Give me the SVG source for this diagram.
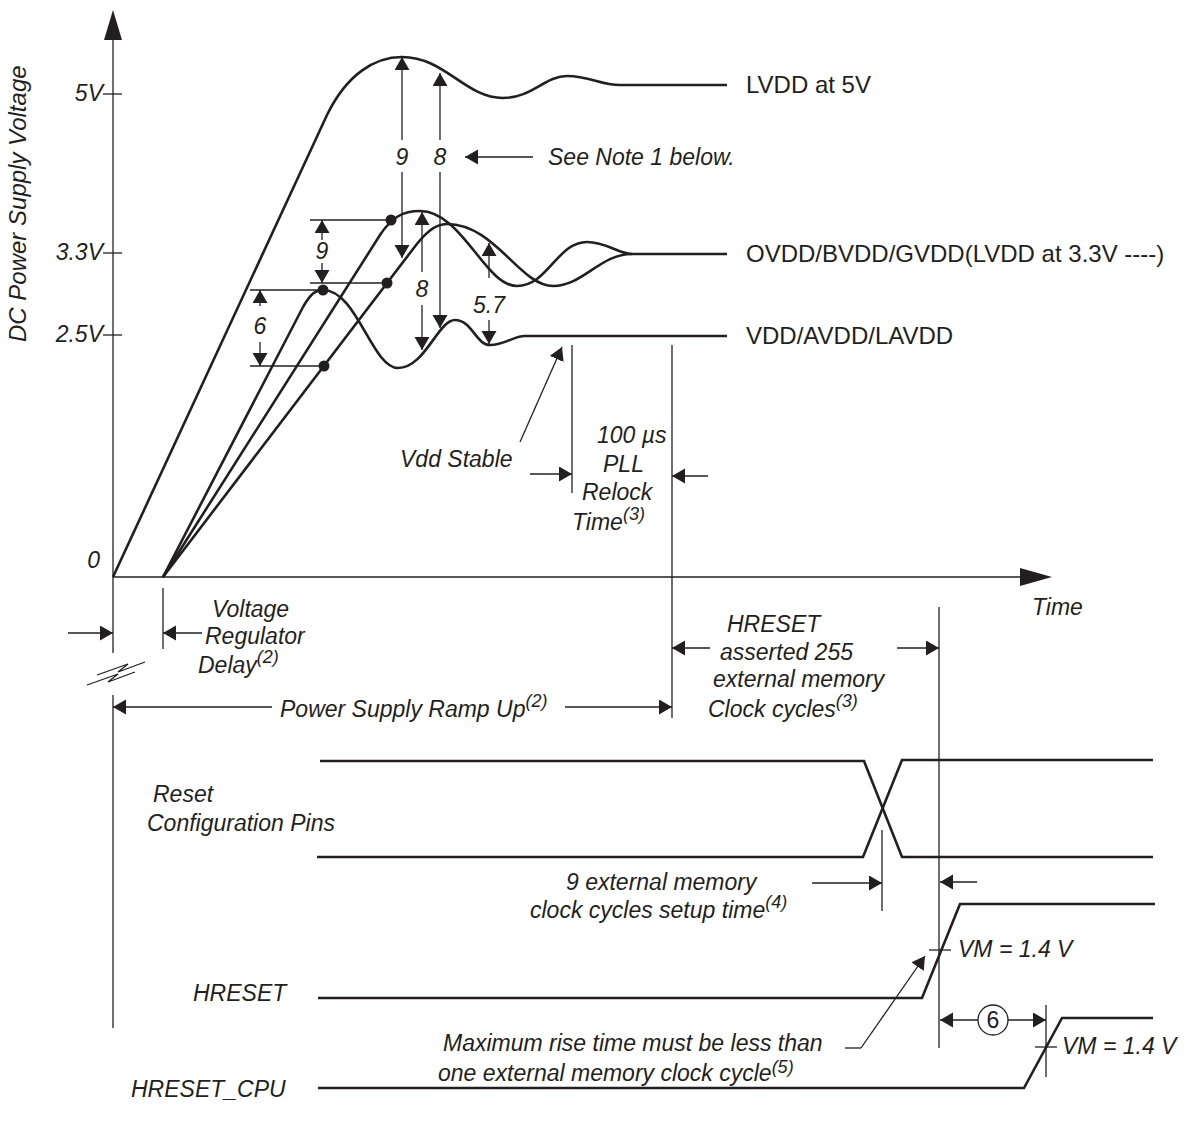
<svg xmlns="http://www.w3.org/2000/svg" width="1195" height="1123" viewBox="0 0 1195 1123">
<defs>
<style>
.ln{stroke:#231f20;stroke-width:1.3;fill:none}
.th{stroke:#231f20;stroke-width:2.6;fill:none}
.t{font-family:"Liberation Sans",Arial,Helvetica,sans-serif;font-size:23px;fill:#231f20}
.big{font-size:24px}
.i{font-style:italic}
.sup{font-size:18px}
.dot{fill:#231f20}
.ar{stroke:#231f20;stroke-width:1.3;fill:none;marker-end:url(#ah)}
</style>
<marker id="ah" markerUnits="userSpaceOnUse" markerWidth="14" markerHeight="16" refX="13" refY="7.5" orient="auto">
<path d="M0,0 L13,7.5 L0,15 z" fill="#231f20"/>
</marker>
</defs>
<rect width="1195" height="1123" fill="#fff"/>

<g id="axes">
<line class="ln" x1="113" y1="38" x2="113" y2="653"/>
<polygon points="113,10 104,40 122,40" fill="#231f20"/>
<line class="ln" x1="113" y1="695" x2="113" y2="1028"/>
<line class="ln" x1="103" y1="94" x2="122" y2="94"/>
<line class="ln" x1="103" y1="253" x2="122" y2="253"/>
<line class="ln" x1="103" y1="335" x2="122" y2="335"/>
<line class="ln" x1="113" y1="577" x2="1022" y2="577"/>
<polygon points="1052,577 1020,568 1020,586" fill="#231f20"/>
<text class="t big i" transform="translate(26,342) rotate(-90)">DC Power Supply Voltage</text>
<text class="t i" x="103" y="101" text-anchor="end">5V</text>
<text class="t i" x="103" y="260" text-anchor="end">3.3V</text>
<text class="t i" x="103" y="342" text-anchor="end">2.5V</text>
<text class="t i" x="100" y="568" text-anchor="end">0</text>
<text class="t i" x="1032" y="615">Time</text>
<path class="ln" d="M87,685 L118,674 L108,682 L135,672 M97,675 L128,664 L118,672 L145,662"/>
</g>

<g id="curves">
<path class="th" d="M113,577 L327,115 C347,74 375,57 402,57 C445,57 465,98 503,98 C532,98 545,76 567,76 C590,76 600,85 620,85 L727,85"/>
<path class="th" d="M163,577 L303,307 C311,293 316,290 323,290 C357,290 372,368 398,368 C425,368 438,320 455,320 C472,320 476,345 490,345 C505,345 513,336 525,336 L727,336"/>
<path class="th" d="M163,577 L380,235 C392,217 403,211 420,211 C462,211 485,286 517,286 C548,286 557,242 587,242 C607,242 618,254 632,254 L727,254"/>
<path class="th" d="M163,577 L413,249 C425,233 435,224 447,224 C495,224 520,286 553,286 C583,286 600,254 632,254"/>
<circle class="dot" cx="323" cy="290" r="5.5"/>
<circle class="dot" cx="391" cy="220" r="5.5"/>
<circle class="dot" cx="387" cy="283" r="5.5"/>
<circle class="dot" cx="324" cy="366" r="5.5"/>
<text class="t big" x="746" y="93">LVDD at 5V</text>
<text class="t big" x="746" y="262">OVDD/BVDD/GVDD(LVDD at 3.3V ----)</text>
<text class="t big" x="746" y="344">VDD/AVDD/LAVDD</text>
</g>

<g id="dimensions">
<line class="ln" x1="310" y1="220" x2="391" y2="220"/>
<line class="ln" x1="310" y1="283" x2="387" y2="283"/>
<line class="ar" x1="322" y1="240" x2="322" y2="220"/>
<line class="ar" x1="322" y1="263" x2="322" y2="283"/>
<text class="t i" x="322" y="259" text-anchor="middle">9</text>

<line class="ln" x1="250" y1="290" x2="323" y2="290"/>
<line class="ln" x1="250" y1="366" x2="324" y2="366"/>
<line class="ar" x1="260" y1="306" x2="260" y2="290"/>
<line class="ar" x1="260" y1="342" x2="260" y2="366"/>
<text class="t i" x="260" y="334" text-anchor="middle">6</text>

<line class="ar" x1="402" y1="140" x2="402" y2="57"/>
<line class="ar" x1="402" y1="172" x2="402" y2="258"/>
<text class="t i" x="402" y="165" text-anchor="middle">9</text>
<line class="ar" x1="440" y1="140" x2="440" y2="73"/>
<line class="ar" x1="440" y1="172" x2="440" y2="328"/>
<text class="t i" x="440" y="165" text-anchor="middle">8</text>
<line class="ar" x1="533" y1="157" x2="465" y2="157"/>
<text class="t i" x="548" y="165">See Note 1 below.</text>

<line class="ar" x1="422" y1="272" x2="422" y2="212"/>
<line class="ar" x1="422" y1="305" x2="422" y2="350"/>
<text class="t i" x="422" y="297" text-anchor="middle">8</text>
<line class="ar" x1="489" y1="278" x2="489" y2="243"/>
<line class="ar" x1="489" y1="320" x2="489" y2="344"/>
<text class="t i" x="489" y="313" text-anchor="middle">5.7</text>
</g>

<g id="vdd-stable">
<line class="ar" x1="520" y1="442" x2="562" y2="347"/>
<text class="t i" x="400" y="467">Vdd Stable</text>
<line class="ln" x1="572" y1="345" x2="572" y2="493"/>
<line class="ln" x1="672" y1="345" x2="672" y2="718"/>
<line class="ar" x1="530" y1="474" x2="572" y2="474"/>
<line class="ar" x1="708" y1="476" x2="672" y2="476"/>
<text class="t i" x="597" y="443">100 µs</text>
<text class="t i" x="603" y="472">PLL</text>
<text class="t i" x="582" y="500">Relock</text>
<text class="t i" x="572" y="530">Time<tspan class="sup" dy="-10">(3)</tspan></text>
</g>

<g id="regulator-delay">
<line class="ln" x1="163" y1="588" x2="163" y2="649"/>
<line class="ar" x1="68" y1="633" x2="113" y2="633"/>
<line class="ar" x1="202" y1="633" x2="163" y2="633"/>
<text class="t i" x="212" y="617">Voltage</text>
<text class="t i" x="205" y="644">Regulator</text>
<text class="t i" x="198" y="673">Delay<tspan class="sup" dy="-10">(2)</tspan></text>
</g>

<g id="ramp-up">
<line class="ar" x1="272" y1="707" x2="113" y2="707"/>
<line class="ar" x1="565" y1="707" x2="672" y2="707"/>
<text class="t i" x="280" y="717">Power Supply Ramp Up<tspan class="sup" dy="-10">(2)</tspan></text>
</g>

<g id="hreset-asserted">
<line class="ln" x1="939" y1="607" x2="939" y2="1048"/>
<line class="ar" x1="710" y1="648" x2="672" y2="648"/>
<line class="ar" x1="897" y1="648" x2="939" y2="648"/>
<text class="t i" x="727" y="632">HRESET</text>
<text class="t i" x="720" y="660">asserted 255</text>
<text class="t i" x="713" y="687">external memory</text>
<text class="t i" x="708" y="717">Clock cycles<tspan class="sup" dy="-10">(3)</tspan></text>
</g>

<g id="reset-config">
<path class="th" d="M320,761 L864,761 L902,857 L1153,857"/>
<path class="th" d="M317,857 L863,857 L902,760 L1153,760"/>
<text class="t i" x="153" y="802">Reset</text>
<text class="t i" x="147" y="831">Configuration Pins</text>
<line class="ln" x1="882" y1="830" x2="882" y2="911"/>
<line class="ar" x1="812" y1="883" x2="882" y2="883"/>
<line class="ar" x1="977" y1="882" x2="940" y2="882"/>
<text class="t i" x="566" y="890">9 external memory</text>
<text class="t i" x="530" y="918">clock cycles setup time<tspan class="sup" dy="-10">(4)</tspan></text>
</g>

<g id="hreset">
<path class="th" d="M318,998 L922,998 L960,904 L1155,904"/>
<line class="ln" x1="929" y1="950" x2="951" y2="950"/>
<text class="t i" x="958" y="957">VM = 1.4 V</text>
<text class="t i" x="193" y="1001">HRESET</text>
<line class="ar" x1="861" y1="1048" x2="925" y2="956"/>
<line class="ln" x1="845" y1="1048" x2="861" y2="1048"/>
<text class="t i" x="443" y="1051">Maximum rise time must be less than</text>
<text class="t i" x="438" y="1081">one external memory clock cycle<tspan class="sup" dy="-8">(5)</tspan></text>
</g>

<g id="hreset-cpu">
<path class="th" d="M318,1088 L1024,1088 L1062,1018 L1153,1018"/>
<line class="ln" x1="1046" y1="1005" x2="1046" y2="1077"/>
<line class="ln" x1="1035" y1="1047" x2="1057" y2="1047"/>
<text class="t i" x="1062" y="1054">VM = 1.4 V</text>
<circle cx="993" cy="1020" r="15" fill="none" stroke="#231f20" stroke-width="1.3"/>
<text class="t" x="993" y="1028" text-anchor="middle">6</text>
<line class="ar" x1="978" y1="1020" x2="940" y2="1020"/>
<line class="ar" x1="1008" y1="1020" x2="1046" y2="1020"/>
<text class="t i" x="131" y="1097">HRESET_CPU</text>
</g>
</svg>
